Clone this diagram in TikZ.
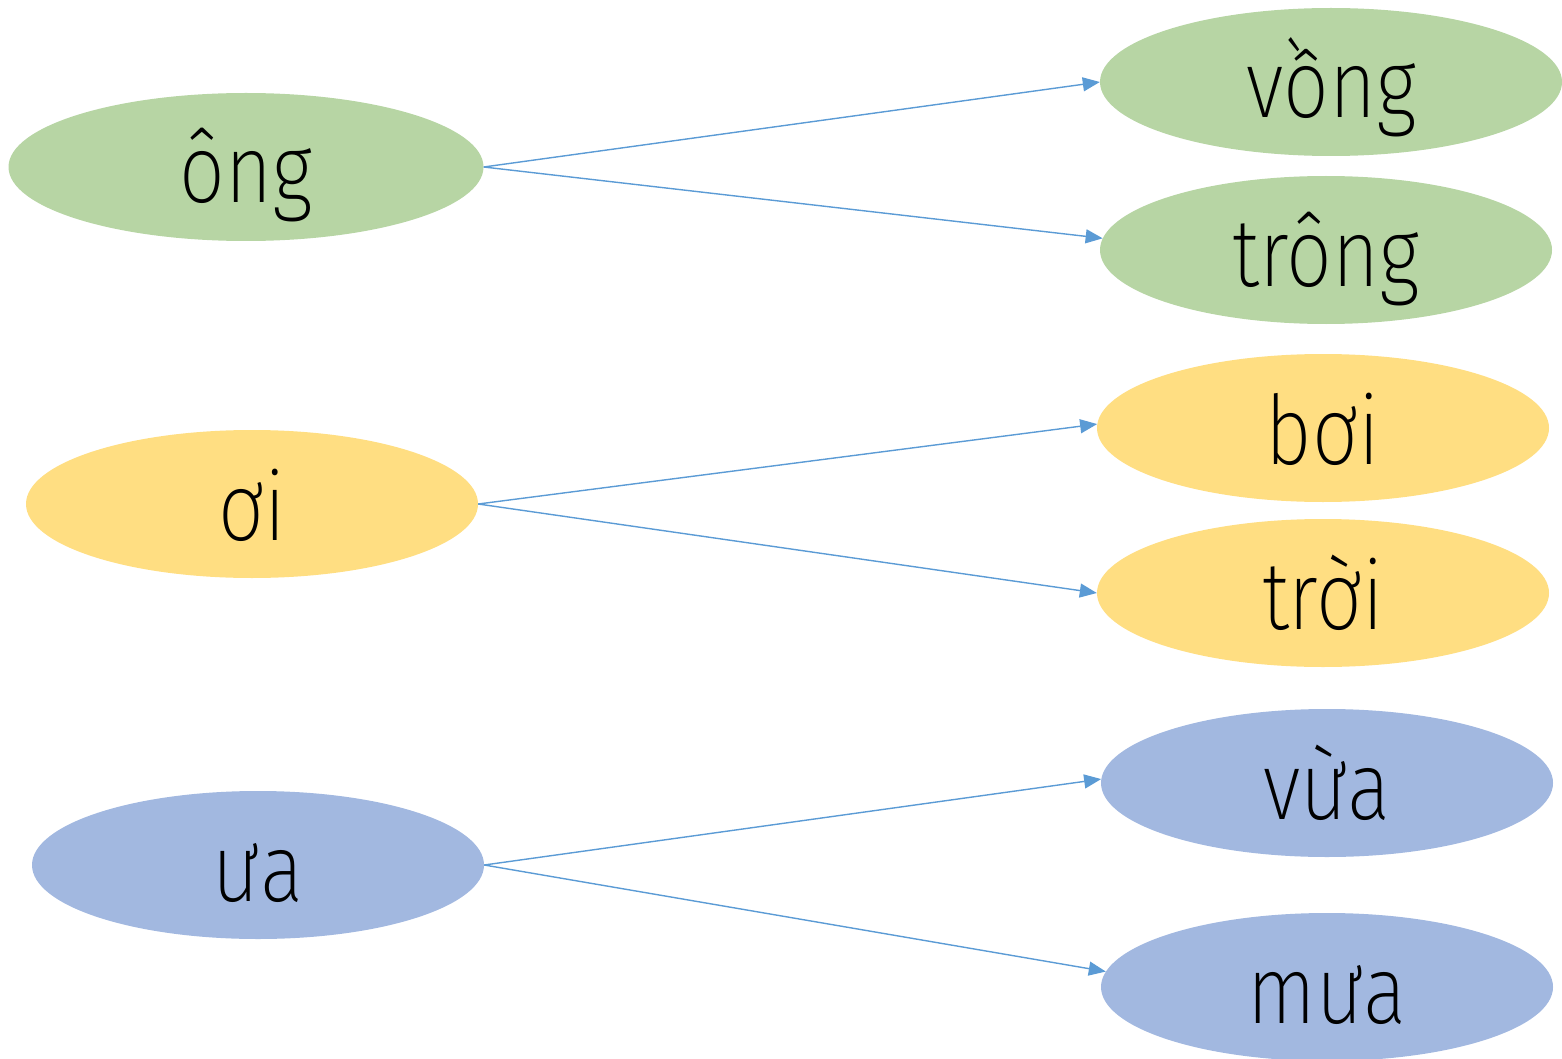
\documentclass[tikz,border=0pt]{standalone}
\usepackage{fontspec}
\setmainfont{Fira Sans ExtraLight}[FakeStretch=0.84]
\usetikzlibrary{shapes.geometric,arrows.meta}
\definecolor{gfill}{HTML}{B7D5A4}
\definecolor{yfill}{HTML}{FFDE82}
\definecolor{bfill}{HTML}{A2B8E0}
\definecolor{arr}{HTML}{5B9BD5}
\tikzset{
  ell/.style={ellipse, inner sep=0pt, minimum height=148pt, text height=72pt, text depth=0pt,
    font=\fontsize{96}{100}\selectfont, text=black},
  lft/.style={ell, minimum width=452pt},
  conn/.style={draw=arr, line width=1.4pt, -{Triangle[length=17pt,width=14pt]}}
}
\begin{document}
\begin{tikzpicture}[x=1pt,y=-1pt]
\useasboundingbox (0,0) rectangle (1562,1059);
\node[ell, minimum width=475pt, fill=gfill] (ong) at (246,167) {ông};
\node[ell, minimum width=462pt, fill=gfill] (vong) at (1331,82) {vồng};
\node[lft, fill=gfill] (trong) at (1326,250) {trông};
\node[lft, fill=yfill] (oi) at (252,504) {ơi};
\node[lft, fill=yfill] (boi) at (1323,428) {bơi};
\node[lft, fill=yfill] (troi) at (1323,593) {trời};
\node[lft, fill=bfill] (ua) at (258,865) {ưa};
\node[lft, fill=bfill] (vua) at (1327,783) {vừa};
\node[lft, fill=bfill] (mua) at (1327,987) {mưa};
\draw[conn] (ong.east) -- (vong.180);
\draw[conn] (ong.east) -- (trong.177);
\draw[conn] (oi.east) -- (boi.179);
\draw[conn] (oi.east) -- (troi.180);
\draw[conn] (ua.east) -- (vua.179);
\draw[conn] (ua.east) -- (mua.176.5);
\end{tikzpicture}
\end{document}
